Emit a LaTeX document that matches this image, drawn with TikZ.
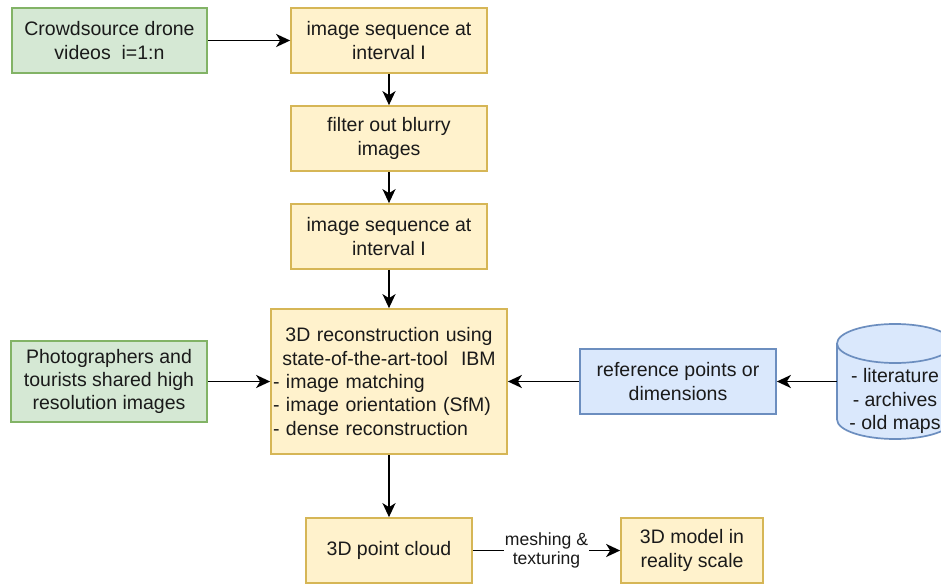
\documentclass[tikz,border=0pt]{standalone}
\usepackage{fontspec}
\setmainfont{Liberation Sans}
\usetikzlibrary{arrows.meta}
\definecolor{gfill}{HTML}{D5E8D4}
\definecolor{gline}{HTML}{82B366}
\definecolor{yfill}{HTML}{FFF2CC}
\definecolor{yline}{HTML}{D6B656}
\definecolor{bfill}{HTML}{DAE8FC}
\definecolor{bline}{HTML}{6C8EBF}
\definecolor{txt}{HTML}{1A1A1A}
\begin{document}
\begin{tikzpicture}[x=1pt,y=-1pt,
  every node/.style={font=\fontsize{19.5}{23.4}\selectfont, text=txt},
  box/.style={draw, line width=1.7pt, minimum height=65pt, inner sep=2pt, align=center},
  gbox/.style={box, fill=gfill, draw=gline},
  ybox/.style={box, fill=yfill, draw=yline},
  bbox/.style={box, fill=bfill, draw=bline},
  arr/.style={line width=1.9pt, -{Stealth[length=14pt,width=13pt,inset=4pt]}},
  lbl/.style={fill=white, inner sep=1pt, align=center, font=\fontsize{17.6}{19.5}\selectfont}
]
\useasboundingbox (0,0) rectangle (941,585);
\clip (0,0) rectangle (941,585);
\fill[white] (0,0) rectangle (941,585);

\node[gbox, minimum width=195pt] (src) at (109.5,40.5) {Crowdsource drone\\videos\ \ i=1:n};
\node[ybox, minimum width=196pt] (seq1) at (389,40.5) {image sequence at\\interval I};
\node[ybox, minimum width=196pt] (filt) at (389,138.5) {filter out blurry\\images};
\node[ybox, minimum width=196pt] (seq2) at (389,236.5) {image sequence at\\interval I};
\node[ybox, minimum width=236pt, minimum height=145pt, text width=232pt, align=left] (rec) at (389,381.5)
  {\centering 3D reconstruction using\\ state-of-the-art-tool\ \ IBM\par\raggedright - image matching\\ - image orientation (SfM)\\ - dense reconstruction};
\node[gbox, minimum width=196pt, minimum height=81pt] (photo) at (109,381.5) {Photographers and\\tourists shared high\\resolution images};
\node[bbox, minimum width=196pt] (ref) at (678,381.5) {reference points or\\dimensions};

% cylinder
\node[minimum width=116pt, minimum height=115pt, inner sep=0pt] (cyl) at (895,381.5) {};
\filldraw[fill=bfill, draw=bline, line width=1.7pt] (837,343.5) -- (837,419.5)
  arc[start angle=180, end angle=360, x radius=58pt, y radius=19.5pt] -- (953,343.5)
  arc[start angle=0, end angle=180, x radius=58pt, y radius=19.5pt] -- cycle;
\draw[draw=bline, line width=1.7pt] (837,343.5) arc[start angle=180, end angle=360, x radius=58pt, y radius=19.5pt];
\node[align=center] (cyltxt) at (895,401) {- literature\\- archives\\- old maps};

\node[ybox, minimum width=166pt] (pc) at (389,550.5) {3D point cloud};
\node[ybox, minimum width=142pt] (model) at (692,550.5) {3D model in\\reality scale};

\draw[arr] (src) -- (seq1);
\draw[arr] (seq1) -- (filt);
\draw[arr] (filt) -- (seq2);
\draw[arr] (seq2) -- (rec);
\draw[arr] (photo) -- (rec);
\draw[arr] (ref) -- (rec);
\draw[arr] (cyl) -- (ref);
\draw[arr] (rec) -- (pc);
\draw[arr] (pc) -- node[lbl] (mesh) {meshing \&\\texturing} (model);
\end{tikzpicture}
\end{document}
